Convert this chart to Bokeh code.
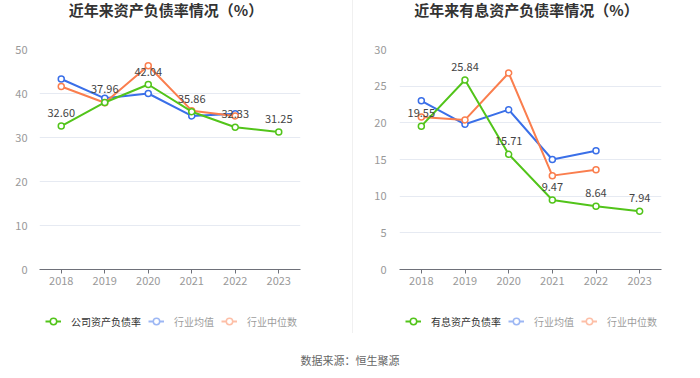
from bokeh.plotting import figure
from bokeh.models import (ColumnDataSource, FactorRange, Legend, LegendItem,
                          Div, FixedTicker, Range1d)
from bokeh.layouts import row, column
from bokeh.embed import file_html
from bokeh.resources import INLINE
from bokeh.core.properties import value

# ---------------- data ----------------
years = ["2018", "2019", "2020", "2021", "2022", "2023"]
ind_years = ["2018", "2019", "2020", "2021", "2022"]

debt_company = [32.60, 37.96, 42.04, 35.86, 32.33, 31.25]
debt_ind_avg = [43.3, 38.9, 40.0, 34.9, 35.4]
debt_ind_median = [41.6, 37.9, 46.3, 36.1, 34.9]

int_company = [19.55, 25.84, 15.71, 9.47, 8.64, 7.94]
int_ind_avg = [23.0, 19.8, 21.8, 15.0, 16.2]
int_ind_median = [20.8, 20.4, 26.8, 12.8, 13.6]

left_title = "近年来资产负债率情况（%）"
right_title = "近年来有息资产负债率情况（%）"
left_names = ["公司资产负债率", "行业均值", "行业中位数"]
right_names = ["有息资产负债率", "行业均值", "行业中位数"]
left_ticks = [0, 10, 20, 30, 40, 50]
right_ticks = [0, 5, 10, 15, 20, 25, 30]
source_text = "数据来源：恒生聚源"

GREEN = "#52C41A"
BLUE = "#3A6FE8"
ORANGE = "#FA7E4E"
FONT = "Noto Sans CJK SC"
NAN = float("nan")


def make_chart(comp, avg, med, ticks, width, bl, br, ystand):
    p = figure(width=width, height=275, x_range=FactorRange(*years, range_padding=0),
               y_range=Range1d(ticks[0], ticks[-1]), output_backend="svg",
               toolbar_location=None, min_border_left=bl, min_border_right=br,
               min_border_top=29, min_border_bottom=26)
    p.outline_line_color = None
    p.xgrid.grid_line_color = None
    p.ygrid.grid_line_color = "#E6EAF2"
    p.ygrid.grid_line_width = 1

    p.yaxis.ticker = FixedTicker(ticks=ticks)
    p.yaxis.axis_line_color = None
    p.yaxis.major_tick_line_color = None
    p.yaxis.minor_tick_line_color = None
    p.yaxis.major_label_standoff = ystand
    p.yaxis.major_label_text_color = "#999999"
    p.yaxis.major_label_text_font_size = "11px"
    p.yaxis.major_label_text_font = FONT

    p.xaxis.axis_line_color = "#6E7079"
    p.xaxis.major_tick_line_color = "#6E7079"
    p.xaxis.major_tick_out = 4
    p.xaxis.major_tick_in = 0
    p.xaxis.major_label_standoff = 3
    p.xaxis.major_label_text_color = "#999999"
    p.xaxis.major_label_text_font_size = "11px"
    p.xaxis.major_label_text_font = FONT

    s_c = ColumnDataSource(dict(x=years, y=comp, lab=["%.2f" % v for v in comp]))
    s_a = ColumnDataSource(dict(x=ind_years, y=avg))
    s_m = ColumnDataSource(dict(x=ind_years, y=med))

    for src, col in ((s_a, BLUE), (s_m, ORANGE), (s_c, GREEN)):
        p.line("x", "y", source=src, line_color=col, line_width=2)
        p.scatter("x", "y", source=src, marker="circle", size=6, fill_color="white",
                  line_color=col, line_width=1.5)

    p.text("x", "y", text="lab", source=s_c, y_offset=-13, text_align="center",
           text_baseline="middle", text_font_size="11px", text_color="#444444",
           text_font=value(FONT))
    return p


def make_legend(names, width, bl, br):
    lf = figure(width=width, height=38, x_range=Range1d(0, 1), y_range=Range1d(0, 1),
                output_backend="svg", toolbar_location=None, x_axis_type=None,
                y_axis_type=None, min_border_left=bl, min_border_right=br,
                min_border_top=0, min_border_bottom=0)
    lf.outline_line_color = None
    lf.grid.visible = False
    items = []
    for name, col, vis in ((names[0], GREEN, True), (names[1], BLUE, False),
                           (names[2], ORANGE, False)):
        # key swatch only: a single NaN point draws nothing on the canvas
        blank = ColumnDataSource(dict(x=[NAN], y=[NAN]))
        rl = lf.line("x", "y", source=blank, line_color=col, line_width=2, visible=vis)
        rs = lf.scatter("x", "y", source=blank, marker="circle", fill_color="white",
                        line_color=col, line_width=1.5, visible=vis)
        items.append(LegendItem(label=name, renderers=[rl, rs]))
    lg = Legend(items=items, location=(6, 3), orientation="horizontal", padding=0,
                margin=0, spacing=7, glyph_width=16, glyph_height=18, label_standoff=10,
                label_height=14, background_fill_alpha=0, border_line_color=None,
                label_text_color="#333333", label_text_font_size="10px",
                label_text_font=FONT, click_policy="hide", inactive_fill_color="white",
                inactive_fill_alpha=0.5)
    lf.add_layout(lg)
    return lf


def title_div(text, width, pad_right):
    html = ('<div style="width:%dpx;padding-right:%dpx;box-sizing:border-box;'
            'text-align:center;font-size:15px;font-weight:bold;color:#333333;'
            'line-height:20px;font-family:\'%s\';white-space:nowrap;">%s</div>'
            % (width, pad_right, FONT, text))
    return Div(text=html, width=width, height=20, margin=0)


left = make_chart(debt_company, debt_ind_avg, debt_ind_median, left_ticks, 352, 39, 52, 6)
right = make_chart(int_company, int_ind_avg, int_ind_median, right_ticks, 347, 46, 39, 7)

left_col = column(title_div(left_title, 352, 20), left,
                  make_legend(left_names, 352, 39, 52), spacing=0)
right_col = column(title_div(right_title, 347, 0), right,
                   make_legend(right_names, 347, 46, 39), spacing=0)

divider = Div(text="", width=1, height=333, margin=0,
              styles={"background-color": "#F0F0F0"})
src = Div(text='<div style="width:700px;text-align:center;font-size:11px;color:#666666;'
               'font-family:\'%s\';line-height:16px;padding-top:19px;">%s</div>'
               % (FONT, source_text),
          width=700, height=45, margin=0)

layout = column(row(left_col, divider, right_col, spacing=0), src, spacing=0)
open("out.html", "w").write(file_html(layout, INLINE))
